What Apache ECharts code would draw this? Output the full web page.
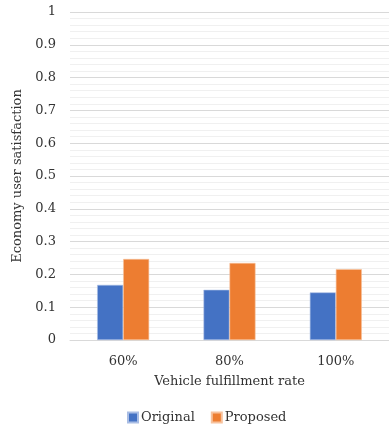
<!DOCTYPE html>
<html>
<head>
<meta charset="utf-8">
<script src="https://cdn.jsdelivr.net/npm/echarts@6/dist/echarts.min.js"></script>
<style>
  html, body { margin: 0; padding: 0; background: #fff; }
  #chart { width: 389px; height: 425px; }
</style>
</head>
<body>
<div id="chart"></div>
<script>
// Fulfillment rate categories and satisfaction scores for each scheme
const categories = ['60%', '80%', '100%'];
const originalValues = [0.168, 0.153, 0.145];
const proposedValues = [0.247, 0.235, 0.216];
const seriesNames = ['Original', 'Proposed'];

const FONT = 'DejaVu Serif';
const TEXT_COLOR = '#333333';
const chart = echarts.init(document.getElementById('chart'), null, { renderer: 'canvas' });

chart.setOption({
  animation: false,
  textStyle: { fontFamily: FONT },
  grid: { left: 70, right: 0, top: 12, bottom: 85, containLabel: false },
  legend: {
    data: seriesNames,
    top: 406,
    left: 122,
    itemWidth: 10,
    itemHeight: 10,
    itemGap: 16,
    icon: 'rect',
    textStyle: { fontFamily: FONT, fontSize: 13, color: TEXT_COLOR, padding: [0, 0, 0, -2] }
  },
  xAxis: {
    type: 'category',
    data: categories,
    name: 'Vehicle fulfillment rate',
    nameLocation: 'middle',
    nameGap: 35,
    nameTextStyle: { fontFamily: FONT, fontSize: 13, color: TEXT_COLOR },
    axisLine: { lineStyle: { color: '#d9d9d9', width: 1 } },
    axisTick: { show: false },
    axisLabel: { fontFamily: FONT, fontSize: 13, color: TEXT_COLOR, margin: 15 }
  },
  yAxis: {
    type: 'value',
    min: 0,
    max: 1,
    interval: 0.1,
    name: 'Economy user satisfaction',
    nameLocation: 'middle',
    nameGap: 33,
    nameTextStyle: { fontFamily: FONT, fontSize: 13, color: TEXT_COLOR },
    axisLine: { show: false },
    axisTick: { show: false },
    axisLabel: { fontFamily: FONT, fontSize: 13, color: TEXT_COLOR, margin: 14 },
    splitLine: { lineStyle: { color: '#d9d9d9', width: 1 } },
    minorTick: { show: false, splitNumber: 5 },
    minorSplitLine: { show: true, lineStyle: { color: '#f0f0f0', width: 1 } }
  },
  series: [
    {
      name: seriesNames[0],
      type: 'bar',
      data: originalValues,
      barWidth: 26,
      barGap: '0%',
      itemStyle: { color: '#4472C4', borderColor: '#a9bde4', borderWidth: 0.6 }
    },
    {
      name: seriesNames[1],
      type: 'bar',
      data: proposedValues,
      barWidth: 26,
      barGap: '0%',
      itemStyle: { color: '#ED7D31', borderColor: '#f7c29d', borderWidth: 0.6 }
    }
  ]
});
</script>
</body>
</html>
